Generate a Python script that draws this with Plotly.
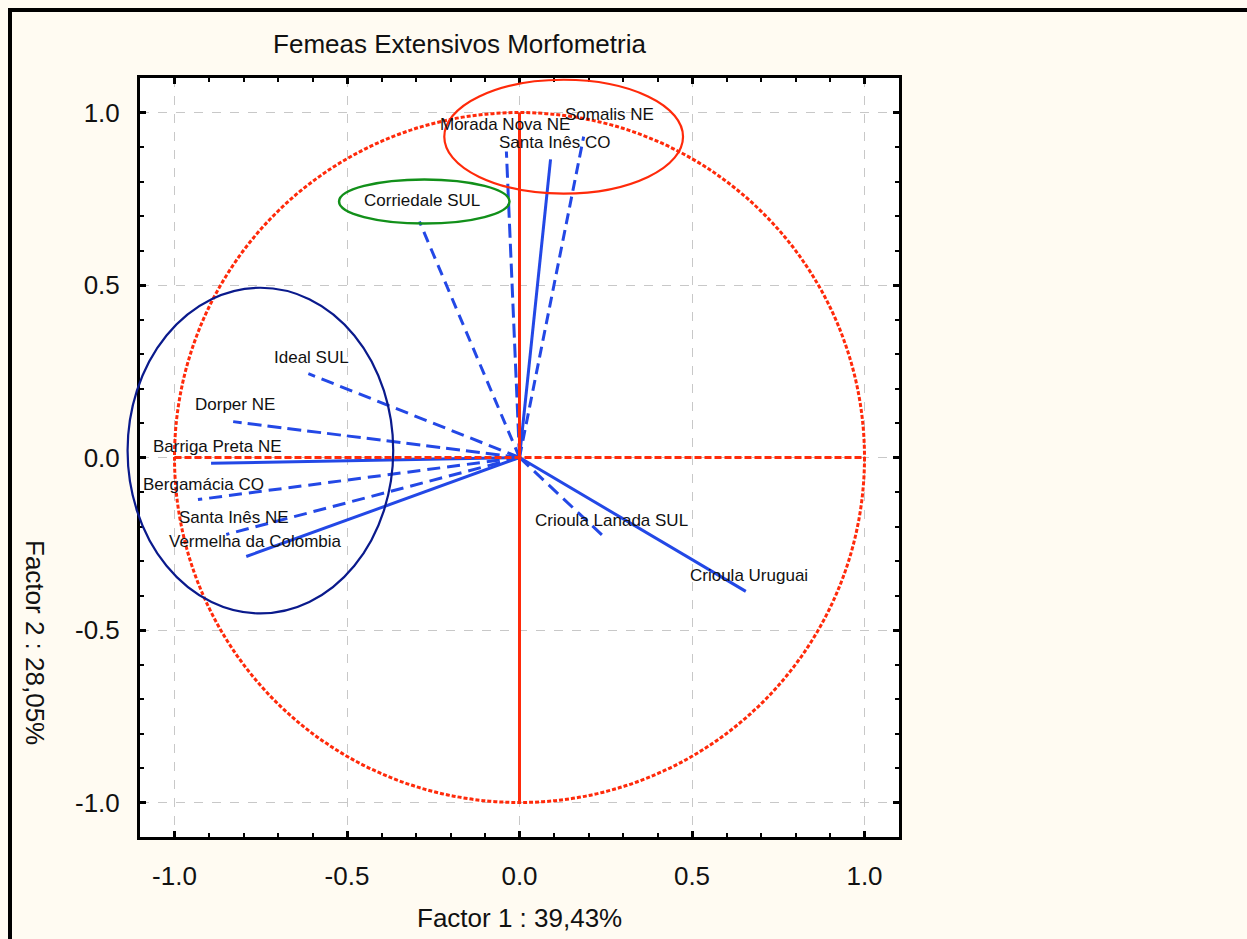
import plotly.graph_objects as go

# Factor loadings (Factor 1, Factor 2) per breed/region
labels = [
    "Crioula Uruguai", "Crioula Lanada SUL", "Vermelha da Colombia",
    "Santa Inês NE", "Bergamácia CO", "Barriga Preta NE", "Dorper NE",
    "Ideal SUL", "Corriedale SUL", "Morada Nova NE", "Santa Inês CO",
    "Somalis NE",
]
factor1 = [0.656, 0.247, -0.792, -0.850, -0.932, -0.894, -0.830,
           -0.612, -0.290, -0.038, 0.090, 0.186]
factor2 = [-0.388, -0.232, -0.287, -0.223, -0.122, -0.017, 0.104,
           0.243, 0.684, 0.887, 0.864, 0.930]
line_dash = ["solid", "13px,7px", "solid", "13px,7px", "13px,7px", "solid",
             "14px,6px", "13px,7px", "11px,7px", "14px,6px", "solid", "11px,6px"]
label_dx = [3, 7, 9, 8, 6, 6, 2, 3, 3, -1, 4, 26]
label_lift = [16, 17, 15, 17, 15, 17, 17, 16, 21, 27, 17, 22]

tick_vals = [-1.0, -0.5, 0.0, 0.5, 1.0]
tick_text = ["-1.0", "-0.5", "0.0", "0.5", "1.0"]

AX_MIN, AX_MAX = -1.1, 1.1
W, H = 1247, 939
M_L, M_R, M_T, M_B = 140, 348, 78, 102
PLOT_W = W - M_L - M_R
PLOT_H = H - M_T - M_B

FONT = "Arial, Liberation Sans, sans-serif"
VEC_BLUE = "#2348e6"
RED = "#ff2a0a"

fig = go.Figure()

# loading vectors from the origin
for name, x, y, dash in zip(labels, factor1, factor2, line_dash):
    fig.add_trace(go.Scatter(
        x=[0, x], y=[0, y], mode="lines", name=name,
        line=dict(color=VEC_BLUE, width=3, dash=dash),
        hoverinfo="name", showlegend=False,
    ))

# red reference axes through the origin
fig.add_trace(go.Scatter(x=[-1, 1], y=[0, 0], mode="lines",
                         line=dict(color=RED, width=3, dash="7px,3px"),
                         hoverinfo="skip", showlegend=False))
fig.add_trace(go.Scatter(x=[0, 0], y=[-1, 1], mode="lines",
                         line=dict(color=RED, width=3),
                         hoverinfo="skip", showlegend=False))

# unit correlation circle
fig.add_shape(type="circle", xref="x", yref="y", x0=-1, x1=1, y0=-1, y1=1,
              line=dict(color=RED, width=3, dash="4px,2px"))


def dom(v):
    return (v - AX_MIN) / (AX_MAX - AX_MIN)


# group ellipses (centre x, centre y, radius x, radius y, colour, width)
groups = [
    (0.128, 0.930, 0.346, 0.165, "#ff2a0a", 2.2),
    (-0.276, 0.742, 0.247, 0.064, "#12901a", 2.5),
    (-0.751, 0.020, 0.385, 0.472, "#0a1a8c", 2.2),
]
for cx, cy, rx, ry, col, lw in groups:
    fig.add_shape(type="circle", xref="x domain", yref="y domain",
                  x0=dom(cx - rx), x1=dom(cx + rx),
                  y0=dom(cy - ry), y1=dom(cy + ry),
                  line=dict(color=col, width=lw))

# labels above each vector tip
for name, x, y, dx, lift in zip(labels, factor1, factor2, label_dx, label_lift):
    fig.add_annotation(x=x, y=y, xref="x", yref="y", text=name,
                       showarrow=False, xanchor="center", yanchor="middle",
                       xshift=dx, yshift=lift,
                       font=dict(family=FONT, size=17, color="#111111"))


def px_x(p):
    return (p - M_L) / PLOT_W


def px_y(p):
    return (H - M_B - p) / PLOT_H


# axis titles
fig.add_annotation(text="Factor 1 : 39,43%", xref="paper", yref="paper",
                   x=px_x(519.5), y=px_y(918), showarrow=False,
                   xanchor="center", yanchor="middle",
                   font=dict(family=FONT, size=26, color="#111111"))
fig.add_annotation(text="Factor 2 : 28,05%", xref="paper", yref="paper",
                   x=px_x(35), y=px_y(642), showarrow=False, textangle=90,
                   xanchor="center", yanchor="middle",
                   font=dict(family=FONT, size=26, color="#111111"))

# outer frame
fig.add_shape(type="rect", xref="paper", yref="paper",
              x0=px_x(10), x1=px_x(1300), y0=px_y(990), y1=px_y(10),
              line=dict(color="black", width=4))

axis_common = dict(
    range=[AX_MIN, AX_MAX], tickvals=tick_vals, ticktext=tick_text,
    showline=True, linecolor="black", linewidth=3, mirror="ticks",
    ticks="inside", ticklen=6, tickwidth=3, tickcolor="black",
    minor=dict(dtick=0.1, tick0=0, ticks="inside", ticklen=4, tickwidth=2,
               tickcolor="black", showgrid=False),
    showgrid=True, gridcolor="#c8c8c8", gridwidth=1, griddash="dash",
    zeroline=False,
    tickfont=dict(family=FONT, size=26, color="#111111"),
)

fig.update_layout(
    width=W, height=H,
    margin=dict(l=M_L, r=M_R, t=M_T, b=M_B),
    paper_bgcolor="#fffbf2", plot_bgcolor="white",
    title=dict(text="Femeas Extensivos Morfometria", xref="container",
               yref="container", x=459.5 / W, y=1 - 44 / H,
               xanchor="center", yanchor="middle",
               font=dict(family=FONT, size=26, color="#111111")),
    xaxis=dict(**axis_common, ticklabelstandoff=14),
    yaxis=dict(**axis_common, ticklabelstandoff=12),
    showlegend=False,
)

fig.write_html("out.html")
